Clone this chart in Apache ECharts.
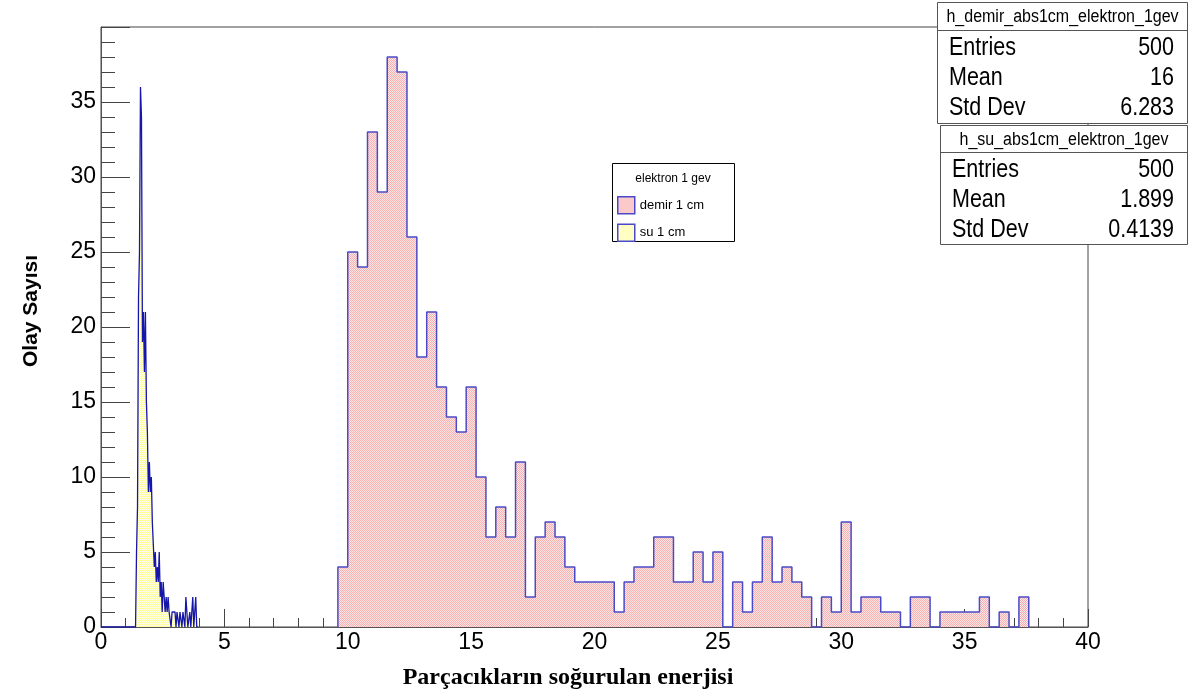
<!DOCTYPE html>
<html>
<head>
<meta charset="utf-8">
<script src="https://cdn.jsdelivr.net/npm/echarts@6/dist/echarts.min.js"></script>
<style>
  html, body { margin: 0; padding: 0; background: #ffffff; }
  #chart { width: 1190px; height: 697px; }
</style>
</head>
<body>
<div id="chart"></div>
<script>
// Iron absorber (demir), 1 cm: bins of 0.4, first bin starts at 9.6
const demirStart = 9.6;
const demirBinWidth = 0.4;
const demirCounts = [
  4, 25, 24, 33, 29, 38, 37, 26, 18, 21,
  16, 14, 13, 16, 10, 6, 8, 6, 11, 2,
  6, 7, 6, 4, 3, 3, 3, 3, 1, 3,
  4, 4, 6, 6, 3, 3, 5, 3, 5, 0,
  3, 1, 3, 6, 3, 4, 3, 2, 0, 2,
  1, 7, 1, 2, 2, 1, 1, 0, 2, 2,
  0, 1, 1, 1, 1, 2, 0, 1, 0, 2
];

// Water absorber (su), 1 cm: bins of 0.04, first bin starts at 1.40
const suStart = 1.40;
const suBinWidth = 0.04;
const suCounts = [
  0, 5, 8, 22, 25, 36, 34, 19, 21, 17,
  21, 15, 13, 9, 11, 9, 10, 7, 7, 4,
  5, 3, 4, 3, 5, 2, 3, 1, 3, 2,
  1, 2, 1, 2, 1, 1, 0, 1, 1, 1,
  1, 0, 1, 1, 0, 1, 1, 0, 1, 1,
  0, 2, 1, 0, 0, 1, 0, 0, 2, 0,
  0, 2, 0
];

const xTicks = [0, 5, 10, 15, 20, 25, 30, 35, 40];
const yTicks = [0, 5, 10, 15, 20, 25, 30, 35];

const legendTitle = 'elektron 1 gev';
const seriesNames = ['demir 1 cm', 'su 1 cm'];

const statsBoxes = [
  { title: 'h_demir_abs1cm_elektron_1gev', rows: [['Entries', '500'], ['Mean', '16'], ['Std Dev', '6.283']] },
  { title: 'h_su_abs1cm_elektron_1gev', rows: [['Entries', '500'], ['Mean', '1.899'], ['Std Dev', '0.4139']] }
];

const xTitle = 'Parçacıkların soğurulan enerjisi';
const yTitle = 'Olay Sayısı';

// ---- helpers -------------------------------------------------------------

// Step outline of a histogram: one point per bin left edge, closed to zero at both ends
function histSteps(start, width, counts, from) {
  const pts = [];
  if (from !== undefined) pts.push([from, 0]);
  pts.push([start, 0]);
  counts.forEach((c, i) => pts.push([+(start + i * width).toFixed(4), c]));
  pts.push([+(start + counts.length * width).toFixed(4), 0]);
  return pts;
}

// Small dotted fill pattern, like a ROOT hatch style
function dotPattern(dark, light) {
  const cv = document.createElement('canvas');
  cv.width = 2; cv.height = 2;
  const ctx = cv.getContext('2d');
  ctx.fillStyle = light; ctx.fillRect(0, 0, 2, 2);
  ctx.fillStyle = dark; ctx.fillRect(0, 0, 1, 1); ctx.fillRect(1, 1, 1, 1);
  return { image: cv, repeat: 'repeat' };
}

const SANS = "'Liberation Sans Narrow', 'Liberation Sans', Arial, sans-serif";
const SANS_W = "'Liberation Sans', Arial, sans-serif";

const plot = { left: 101, right: 1088, top: 27, bottom: 627 };

// ---- stats boxes -----------------------------------------------------------
const statGraphics = [];
const boxGeom = [
  { x: 937, y: 2, w: 251, h: 121, titleH: 28 },
  { x: 940, y: 125, w: 248, h: 119, titleH: 27 }
];
statsBoxes.forEach((box, b) => {
  const g = boxGeom[b];
  statGraphics.push({
    type: 'rect', z: 10,
    shape: { x: g.x + 0.5, y: g.y + 0.5, width: g.w - 1, height: g.h },
    style: { fill: '#ffffff', stroke: '#555555', lineWidth: 1 }
  });
  statGraphics.push({
    type: 'line', z: 11,
    shape: { x1: g.x, y1: g.y + g.titleH + 0.5, x2: g.x + g.w, y2: g.y + g.titleH + 0.5 },
    style: { stroke: '#555555', lineWidth: 1 }
  });
  statGraphics.push({
    type: 'text', z: 11, x: g.x + g.w / 2, y: g.y + g.titleH / 2 + 1, scaleY: 1.15,
    style: { text: box.title, fill: '#000', font: '16px ' + SANS_W, textAlign: 'center', textVerticalAlign: 'middle' }
  });
  box.rows.forEach((r, i) => {
    const cy = g.y + g.titleH + 18 + i * 30;
    statGraphics.push({
      type: 'text', z: 11, x: g.x + 12, y: cy, scaleX: 0.86,
      style: { text: r[0], fill: '#000', font: '25px ' + SANS_W, textAlign: 'left', textVerticalAlign: 'middle' }
    });
    statGraphics.push({
      type: 'text', z: 11, x: g.x + g.w - 14, y: cy, scaleX: 0.86,
      style: { text: r[1], fill: '#000', font: '25px ' + SANS_W, textAlign: 'right', textVerticalAlign: 'middle' }
    });
  });
});

// ---- chart -----------------------------------------------------------------
const chart = echarts.init(document.getElementById('chart'), null, { renderer: 'canvas' });

const demirFill = dotPattern('#f6b0b0', '#fde6e6');
const suFill = dotPattern('#ffff9a', '#ffffee');

chart.setOption({
  animation: false,
  backgroundColor: '#ffffff',
  grid: {
    left: plot.left, right: 1190 - plot.right, top: plot.top, bottom: 697 - plot.bottom,
    show: true, borderColor: '#444444', borderWidth: 1, backgroundColor: 'transparent',
    outerBoundsMode: 'none'
  },
  xAxis: {
    type: 'value', min: xTicks[0], max: xTicks[xTicks.length - 1], interval: 5,
    axisLine: { show: true, onZero: false, lineStyle: { color: '#555555', width: 1 } },
    axisTick: { show: true, inside: true, length: 18, lineStyle: { color: '#444444', width: 1 } },
    minorTick: { show: true, splitNumber: 5, length: 9, lineStyle: { color: '#444444', width: 1 } },
    splitLine: { show: false },
    axisLabel: { show: true, margin: 4, color: '#000', fontSize: 23, fontFamily: SANS,
      customValues: xTicks },
  },
  yAxis: {
    type: 'value', min: 0, max: 40, interval: 5,
    axisLine: { show: true, onZero: false, lineStyle: { color: '#555555', width: 1 } },
    axisTick: { show: true, inside: true, length: 29, lineStyle: { color: '#444444', width: 1 } },
    minorTick: { show: true, splitNumber: 5, length: 14, lineStyle: { color: '#444444', width: 1 } },
    splitLine: { show: false },
    axisLabel: { show: true, margin: 5, color: '#000', fontSize: 23, fontFamily: SANS,
      customValues: yTicks },
  },
  legend: {
    orient: 'vertical', left: 617, top: 196, z: 6, padding: 0,
    itemWidth: 17, itemHeight: 17, itemGap: 9, icon: 'rect', selectedMode: false,
    textStyle: { fontSize: 13, fontFamily: SANS_W, color: '#000' },
    data: [
      { name: seriesNames[0], itemStyle: { color: '#fbc9c9', borderColor: '#4a4ac8', borderWidth: 1.5 } },
      { name: seriesNames[1], itemStyle: { color: '#ffffc4', borderColor: '#4a4ac8', borderWidth: 1.5 } }
    ]
  },
  graphic: [
    // legend frame and header
    { type: 'rect', z: 5, shape: { x: 612.5, y: 163.5, width: 122, height: 78 },
      style: { fill: '#ffffff', stroke: '#000000', lineWidth: 1 } },
    { type: 'text', z: 6, x: 673, y: 179,
      style: { text: legendTitle, fill: '#000', font: '12px ' + SANS_W, textAlign: 'center', textVerticalAlign: 'middle' } },
    // axis titles
    { type: 'text', z: 6, x: 31, y: 311, rotation: Math.PI / 2,
      style: { text: yTitle, fill: '#000', font: 'bold 21px ' + SANS_W, textAlign: 'center', textVerticalAlign: 'middle' } },
    { type: 'text', z: 6, x: 568, y: 678,
      style: { text: xTitle, fill: '#000', font: 'bold 24px "Liberation Serif", "Times New Roman", serif', textAlign: 'center', textVerticalAlign: 'middle' } }
  ].concat(statGraphics),
  series: [
    {
      name: seriesNames[0], type: 'line', step: 'end', z: 2,
      showSymbol: false, symbol: 'none',
      data: histSteps(demirStart, demirBinWidth, demirCounts),
      lineStyle: { color: '#4a4ac8', width: 1.5 },
      itemStyle: { color: '#fbc9c9' },
      areaStyle: { color: demirFill, opacity: 1 }
    },
    {
      name: seriesNames[1], type: 'line', step: 'end', z: 3,
      showSymbol: false, symbol: 'none',
      data: histSteps(suStart, suBinWidth, suCounts, 0),
      lineStyle: { color: '#1616a8', width: 1.3 },
      itemStyle: { color: '#ffffc4' },
      areaStyle: { color: suFill, opacity: 1 }
    }
  ]
});
</script>
</body>
</html>
